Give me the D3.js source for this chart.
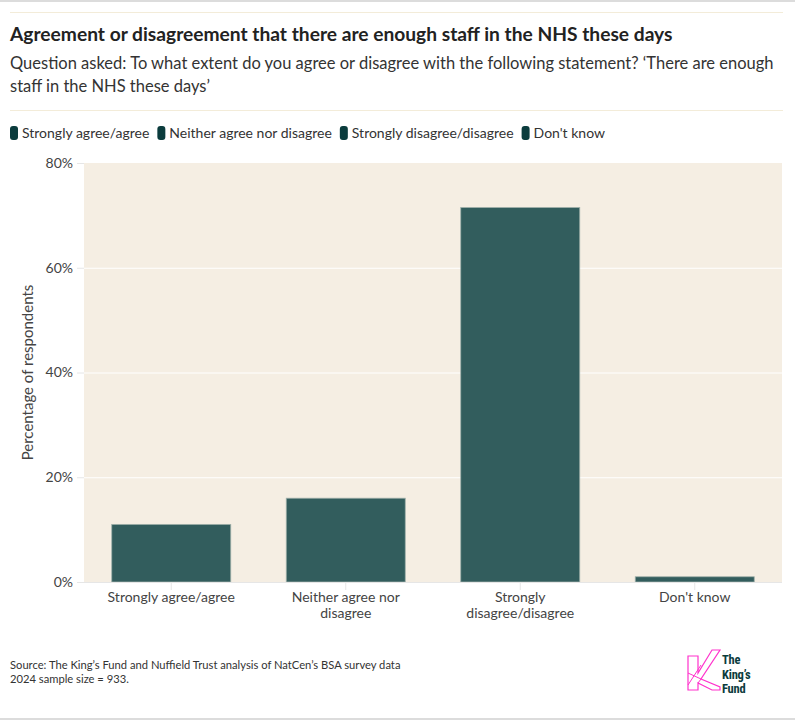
<!DOCTYPE html>
<html>
<head>
<meta charset="utf-8">
<title>Agreement or disagreement that there are enough staff in the NHS these days</title>
<script src="https://d3js.org/d3.v7.min.js"></script>
<style>
  body { margin: 0; background: #fff; }
  svg { display: block; font-family: Lato, "Open Sans", sans-serif; }
</style>
</head>
<body>
<svg id="chart" width="795" height="720"></svg>
<script>
// data
const categories = ["Strongly agree/agree", "Neither agree nor disagree", "Strongly disagree/disagree", "Don't know"];
const axisLabels = [["Strongly agree/agree"], ["Neither agree nor", "disagree"], ["Strongly", "disagree/disagree"], ["Don't know"]];
const values = [11, 16, 71.5, 1];
const yTicks = [0, 20, 40, 60, 80];

const svg = d3.select("#chart");
const W = 795, H = 720;

// frame lines
svg.append("rect").attr("x", 0).attr("y", 0).attr("width", W).attr("height", 2).attr("fill", "#dcdcdc");
svg.append("rect").attr("x", 0).attr("y", H - 2).attr("width", W).attr("height", 2).attr("fill", "#dcdcdc");
svg.append("line").attr("x1", 10).attr("x2", 783).attr("y1", 12.5).attr("y2", 12.5)
   .attr("stroke", "#f3ecd9").attr("stroke-width", 1);
svg.append("line").attr("x1", 10).attr("x2", 783).attr("y1", 110.5).attr("y2", 110.5)
   .attr("stroke", "#f3ecd9").attr("stroke-width", 1);

// titles
svg.append("text").attr("x", 10).attr("y", 41)
   .attr("font-size", 19.2).attr("font-weight", 700).attr("fill", "#222")
   .text("Agreement or disagreement that there are enough staff in the NHS these days");
const sub = svg.append("text").attr("font-size", 16.5).attr("fill", "#333");
sub.append("tspan").attr("x", 10).attr("y", 69)
   .text("Question asked: To what extent do you agree or disagree with the following statement? \u2018There are enough");
sub.append("tspan").attr("x", 10).attr("y", 92).text("staff in the NHS these days\u2019");

// legend
const legend = svg.append("g").attr("transform", "translate(10,133)");
let lx = 0;
categories.forEach(c => {
  const g = legend.append("g").attr("transform", `translate(${lx},0)`);
  g.append("rect").attr("x", 0).attr("y", -7).attr("width", 8).attr("height", 14).attr("rx", 3)
   .attr("fill", "#0b3c3d");
  const t = g.append("text").attr("x", 12).attr("y", 5).attr("font-size", 14).attr("fill", "#333").text(c);
  lx += 12 + t.node().getComputedTextLength() + 8;
});

// chart area
const plot = {left: 84, right: 782, top: 163, bottom: 582};
const x = d3.scaleBand().domain(categories).range([plot.left, plot.right])
            .paddingInner(0.318).paddingOuter(0.159);
const y = d3.scaleLinear().domain([0, 80]).range([plot.bottom, plot.top]);

svg.append("rect").attr("x", plot.left).attr("y", plot.top)
   .attr("width", plot.right - plot.left).attr("height", plot.bottom - plot.top)
   .attr("fill", "#f5eee3");

// gridlines
svg.append("g").selectAll("line").data(yTicks.filter(d => d > 0 && d < 80)).join("line")
   .attr("x1", plot.left).attr("x2", plot.right)
   .attr("y1", d => y(d) + 0.5).attr("y2", d => y(d) + 0.5)
   .attr("stroke", "#fff").attr("stroke-width", 1);

// bars
svg.append("g").selectAll("rect").data(values).join("rect")
   .attr("x", (d, i) => x(categories[i]))
   .attr("y", d => y(d))
   .attr("width", x.bandwidth())
   .attr("height", d => y(0) - y(d))
   .attr("fill", "#325d5d")
   .attr("stroke", "#9fb0aa").attr("stroke-width", 0.8);

// y axis
const yAxis = svg.append("g").attr("transform", `translate(${plot.left},0)`)
   .call(d3.axisLeft(y).tickValues(yTicks).tickFormat(d => d + "%").tickSize(7).tickPadding(4));
yAxis.select(".domain").remove();
yAxis.selectAll(".tick line").attr("stroke", "#e6e6e6");
yAxis.selectAll(".tick text").attr("font-size", 14).attr("fill", "#444")
     .attr("font-family", "Lato, sans-serif");

// x axis
const xAxis = svg.append("g").attr("transform", `translate(0,${plot.bottom})`)
   .call(d3.axisBottom(x).tickSize(8).tickFormat(""));
xAxis.select(".domain").attr("stroke", "#e6e6e6").attr("d", `M${plot.left},0.5H${plot.right}`);
xAxis.selectAll(".tick line").attr("stroke", "#e6e6e6");
categories.forEach((c, i) => {
  const t = svg.append("text").attr("text-anchor", "middle").attr("font-size", 14).attr("fill", "#444");
  axisLabels[i].forEach((line, j) => {
    t.append("tspan").attr("x", x(c) + x.bandwidth() / 2).attr("y", 602 + j * 16).text(line);
  });
});

// y axis title
svg.append("text")
   .attr("transform", `translate(33,${(plot.top + plot.bottom) / 2}) rotate(-90)`)
   .attr("text-anchor", "middle").attr("font-size", 15).attr("fill", "#444")
   .text("Percentage of respondents");

// source
const src = svg.append("text").attr("font-size", 11.2).attr("fill", "#333");
src.append("tspan").attr("x", 10).attr("y", 669)
   .text("Source: The King\u2019s Fund and Nuffield Trust analysis of NatCen\u2019s BSA survey data");
src.append("tspan").attr("x", 10).attr("y", 683).text("2024 sample size = 933.");

// logo
const logo = svg.append("g").attr("transform", "translate(688,650)");
logo.append("path")
   .attr("d", "M0,6 H10 V23 L24,0 H32 L13,29 L32,37 V40 H24 L10,33 V40 H0 Z")
   .attr("fill", "none").attr("stroke", "#ff33cc").attr("stroke-width", 1.2);
logo.append("path").attr("d", "M0,35 L13,15 M10,33 L13,29 L0,23")
   .attr("fill", "none").attr("stroke", "#ff33cc").attr("stroke-width", 1);
const lt = logo.append("text")
   .attr("font-size", 12.5).attr("font-weight", 700).attr("fill", "#0b3c3d")
   .attr("font-family", "'Liberation Sans Narrow', 'Roboto Condensed', Roboto, sans-serif")
   .attr("letter-spacing", -0.2);
["The", "King\u2019s", "Fund"].forEach((w, i) => {
  lt.append("tspan").attr("x", 34).attr("y", 14 + i * 14.6).text(w);
});
</script>
</body>
</html>
